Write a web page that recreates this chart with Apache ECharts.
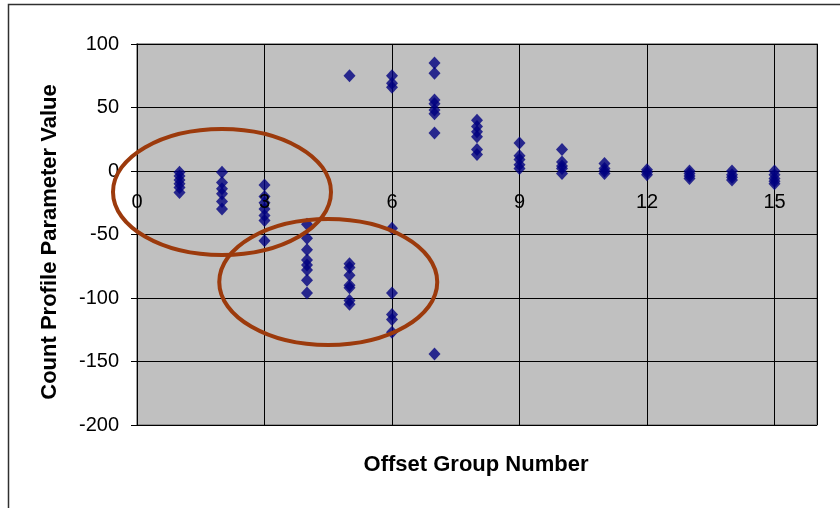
<!DOCTYPE html>
<html>
<head>
<meta charset="utf-8">
<script src="https://cdn.jsdelivr.net/npm/echarts@6/dist/echarts.min.js"></script>
<style>
html,body{margin:0;padding:0;background:#fff;}
#chart{width:840px;height:508px;}
</style>
</head>
<body>
<div id="chart"></div>
<script>
// Values per offset group (x = group number)
const groups = [1,2,3,4,5,6,7,8,9,10,11,12,13,14,15];
const g1  = [-1, -4, -7, -10, -13, -17];
const g2  = [-1, -9, -14, -18, -24, -30];
const g3  = [-11, -20, -25, -30, -35, -39, -55];
const g4  = [-42, -53, -62, -70, -74, -78, -86, -96];
const g5  = [75, -73, -76, -82, -90, -92, -102, -105];
const g6  = [75, 69, 66, -45, -96, -113, -117, -127];
const g7  = [85, 77, 56, 53, 48, 45, 30, -144];
const g8  = [40, 35, 31, 27, 17, 13];
const g9  = [22, 12, 9, 5, 2];
const g10 = [17, 7, 4, 2, -2];
const g11 = [6, 2, 0, -2];
const g12 = [1, -1, -3];
const g13 = [0, -2, -4, -6];
const g14 = [0, -3, -5, -7];
const g15 = [0, -3, -6, -8, -10];
const groupValues = [g1,g2,g3,g4,g5,g6,g7,g8,g9,g10,g11,g12,g13,g14,g15];
const xTicks = [0, 3, 6, 9, 12, 15];
const yTicks = [-200, -150, -100, -50, 0, 50, 100];
// Annotation ellipses (data-space centers)
const ellipseCenters = [[2.0, -16.5], [4.5, -87.4]];

const points = [];
groups.forEach((g, i) => groupValues[i].forEach(v => points.push([g, v])));

const font = '"Liberation Sans", Arial, sans-serif';
const chart = echarts.init(document.getElementById('chart'), null, {renderer: 'canvas'});

const option = {
  animation: false,
  backgroundColor: '#ffffff',
  grid: {left: 137, right: 23, top: 44, bottom: 83, show: true,
         backgroundColor: '#C0C0C0', borderColor: '#808080', borderWidth: 1.5},
  xAxis: {
    type: 'value', min: 0, max: 16, interval: 3,
    axisLine: {show: true, onZero: true, lineStyle: {color: '#000', width: 1}},
    axisTick: {show: false},
    axisLabel: {show: false},
    splitLine: {show: true, lineStyle: {color: '#000', width: 1}}
  },
  yAxis: {
    type: 'value', min: -200, max: 100, interval: 50,
    axisLine: {show: true, onZero: false, lineStyle: {color: '#000', width: 1}},
    axisTick: {show: true, length: 6, lineStyle: {color: '#000'}},
    axisLabel: {margin: 18, fontFamily: font, fontSize: 20, color: '#000',
      formatter: v => (yTicks.indexOf(v) >= 0 ? String(v) : '')},
    splitLine: {show: true, lineStyle: {color: '#000', width: 1}}
  },
  series: [{
    type: 'scatter', data: points, z: 2,
    symbol: 'diamond', symbolSize: [12, 13],
    itemStyle: {color: '#000080'}
  }, {
    // x tick labels placed along the y = 0 line (Excel style axis crossing)
    type: 'scatter', data: xTicks.map(t => [t, 0]), z: 3, silent: true,
    symbol: 'circle', symbolSize: 0.01,
    itemStyle: {color: '#000000', opacity: 1},
    label: {show: true, position: 'bottom', distance: 21, formatter: p => String(p.value[0]),
      fontFamily: font, fontSize: 20, color: '#000000', opacity: 1}
  }]
};
chart.setOption(option);

const els = [{
  type: 'rect', silent: true, z: 100,
  shape: {x: 8.5, y: 4.5, width: 900, height: 600},
  style: {fill: null, stroke: '#303030', lineWidth: 1.5}
}, {
  type: 'text', silent: true, z: 100,
  x: 476, y: 465,
  style: {text: 'Offset Group Number', font: 'bold 22px ' + font, fill: '#000', align: 'center', verticalAlign: 'middle'}
}, {
  type: 'text', silent: true, z: 100,
  x: 50, y: 242, rotation: Math.PI / 2,
  style: {text: 'Count Profile Parameter Value', font: 'bold 22px ' + font, fill: '#000', align: 'center', verticalAlign: 'middle'}
}];
ellipseCenters.forEach(c => {
  const p = chart.convertToPixel({xAxisIndex: 0, yAxisIndex: 0}, c);
  els.push({
    type: 'ellipse', silent: true, z: 50,
    shape: {cx: p[0], cy: p[1], rx: 109, ry: 63},
    style: {fill: null, stroke: '#9C3A0C', lineWidth: 4}
  });
});
chart.setOption({graphic: {elements: els}});
</script>
</body>
</html>
